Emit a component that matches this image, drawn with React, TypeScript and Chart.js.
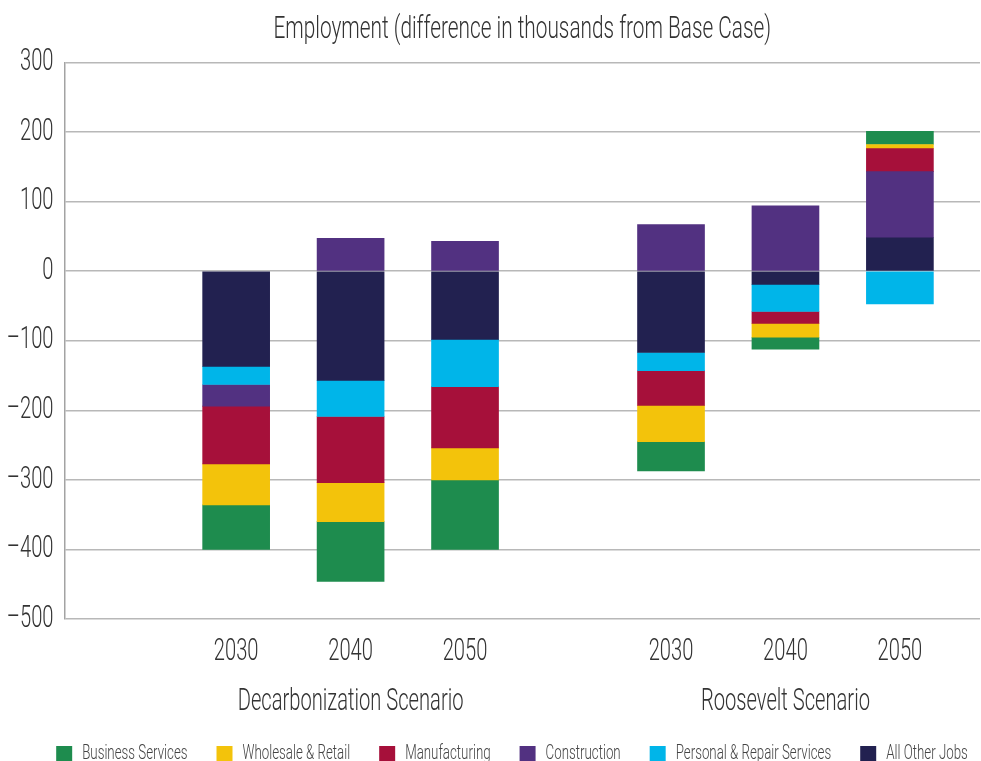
import React, { useEffect, useRef } from "react";
import { Chart, registerables } from "chart.js";

Chart.register(...registerables);

// ---- Data ----
const years = ["2030", "2040", "2050", "2030", "2040", "2050"];
const slotPositions = [1.5, 2.5, 3.5, 5.3, 6.3, 7.3];
const groupNames = ["Decarbonization Scenario", "Roosevelt Scenario"];
const groupLabelSlot = [1, 4];

const allOtherJobs = [-137, -157, -98, -117, -19, 48];
const personalRepair = [-26, -52, -68, -26, -39, -47];
const construction = [-31, 47, 43, 67, 94, 95];
const manufacturing = [-83, -95, -88, -50, -17, 33];
const wholesaleRetail = [-59, -56, -46, -52, -20, 6];
const businessServices = [-64, -86, -100, -42, -17, 19];

const yTicks = [300, 200, 100, 0, -100, -200, -300, -400, -500];

const FONT = "Roboto, 'Liberation Sans', sans-serif";
const TEXT = "#333333";

const seriesDefs = [
  { label: "All Other Jobs", values: allOtherJobs, color: "#222150" },
  { label: "Personal & Repair Services", values: personalRepair, color: "#00b5e9" },
  { label: "Construction", values: construction, color: "#523181" },
  { label: "Manufacturing", values: manufacturing, color: "#a6103a" },
  { label: "Wholesale & Retail", values: wholesaleRetail, color: "#f3c30b" },
  { label: "Business Services", values: businessServices, color: "#1e8c4e" },
];

// horizontal condensing of the text face (the original uses a condensed font)
function stretchFor(font: string) {
  const m = /(\d+(?:\.\d+)?)px/.exec(font);
  const size = m ? parseFloat(m[1]) : 12;
  return size >= 25 ? 0.65 : 0.665;
}

function condenseText(ctx: CanvasRenderingContext2D) {
  const fill = ctx.fillText.bind(ctx);
  const measure = ctx.measureText.bind(ctx);
  (ctx as any).fillText = (text: string, x: number, y: number) => {
    const sx = stretchFor(ctx.font);
    ctx.save();
    ctx.translate(x, y);
    ctx.scale(sx, 1);
    fill(text, 0, 0);
    ctx.restore();
  };
  (ctx as any).measureText = (text: string) => {
    const sx = stretchFor(ctx.font);
    const m = measure(text);
    return {
      width: m.width * sx,
      actualBoundingBoxAscent: m.actualBoundingBoxAscent,
      actualBoundingBoxDescent: m.actualBoundingBoxDescent,
      actualBoundingBoxLeft: m.actualBoundingBoxLeft * sx,
      actualBoundingBoxRight: m.actualBoundingBoxRight * sx,
      fontBoundingBoxAscent: m.fontBoundingBoxAscent,
      fontBoundingBoxDescent: m.fontBoundingBoxDescent,
    };
  };
}

const legendShift = {
  id: "legendShift",
  afterLayout(chart: any) {
    if (chart.legend) {
      chart.legend.left += 22;
      chart.legend.right += 22;
    }
  },
};

export default function App() {
  const canvasRef = useRef<HTMLCanvasElement | null>(null);

  useEffect(() => {
    const canvas = canvasRef.current;
    if (!canvas) return;
    const ctx = canvas.getContext("2d");
    if (ctx) condenseText(ctx);
    const chart = new Chart(canvas, {
      type: "bar",
      data: {
        datasets: seriesDefs.map((s) => ({
          label: s.label,
          data: slotPositions.map((x, i) => ({ x, y: s.values[i] })),
          backgroundColor: s.color,
          borderWidth: 0,
          barThickness: 67,
        })),
      },
      plugins: [legendShift],
      options: {
        animation: false,
        responsive: false,
        layout: { padding: { left: 0, right: 1, top: 0, bottom: -13 } },
        plugins: {
          title: {
            display: true,
            text: "Employment (difference in thousands from Base Case)",
            color: TEXT,
            font: { family: FONT, size: 32, weight: 300, lineHeight: 1.2 },
            padding: { top: 11, bottom: 13 },
            fullSize: false,
          },
          legend: {
            position: "bottom",
            reverse: true,
            labels: {
              boxWidth: 16,
              boxHeight: 16,
              padding: 29,
              color: "#444444",
              font: { family: FONT, size: 20, weight: 300 },
            },
          },
          tooltip: { enabled: false },
        },
        scales: {
          x: {
            type: "linear",
            stacked: true,
            offset: false,
            min: 0,
            max: 8,
            afterBuildTicks: (axis: any) => {
              axis.ticks = slotPositions.map((v) => ({ value: v }));
            },
            afterFit: (axis: any) => {
              axis.height = 96;
            },
            grid: { display: false, drawTicks: false, offset: false },
            border: { display: false },
            ticks: {
              color: TEXT,
              padding: 8,
              maxRotation: 0,
              autoSkip: false,
              font: { family: FONT, size: 31, weight: 300, lineHeight: 1.613 },
              callback: (value: any) => {
                const i = slotPositions.findIndex((p) => Math.abs(p - Number(value)) < 1e-6);
                if (i < 0) return "";
                const g = groupLabelSlot.indexOf(i);
                return g >= 0 ? [years[i], groupNames[g]] : years[i];
              },
            },
          },
          y: {
            stacked: true,
            min: -500,
            max: 300,
            afterBuildTicks: (axis: any) => {
              axis.ticks = yTicks.map((v) => ({ value: v }));
            },
            afterFit: (axis: any) => {
              axis.width = 64.5;
            },
            grid: { color: "#b8b8b8", lineWidth: 1.5, drawTicks: false },
            border: { display: true, color: "#a3a3a3", width: 1.5 },
            ticks: {
              color: TEXT,
              padding: 11,
              autoSkip: false,
              font: { family: FONT, size: 31, weight: 300 },
              callback: (value: any) => {
                const n = Number(value);
                return n < 0 ? "\u2013" + Math.abs(n) : String(n);
              },
            },
          },
        },
      },
    });
    return () => chart.destroy();
  }, []);

  return (
    <div style={{ position: "fixed", left: 0, top: 0, width: 981, height: 761, background: "#fff" }}>
      <canvas ref={canvasRef} width={981} height={761} style={{ display: "block" }} />
    </div>
  );
}
